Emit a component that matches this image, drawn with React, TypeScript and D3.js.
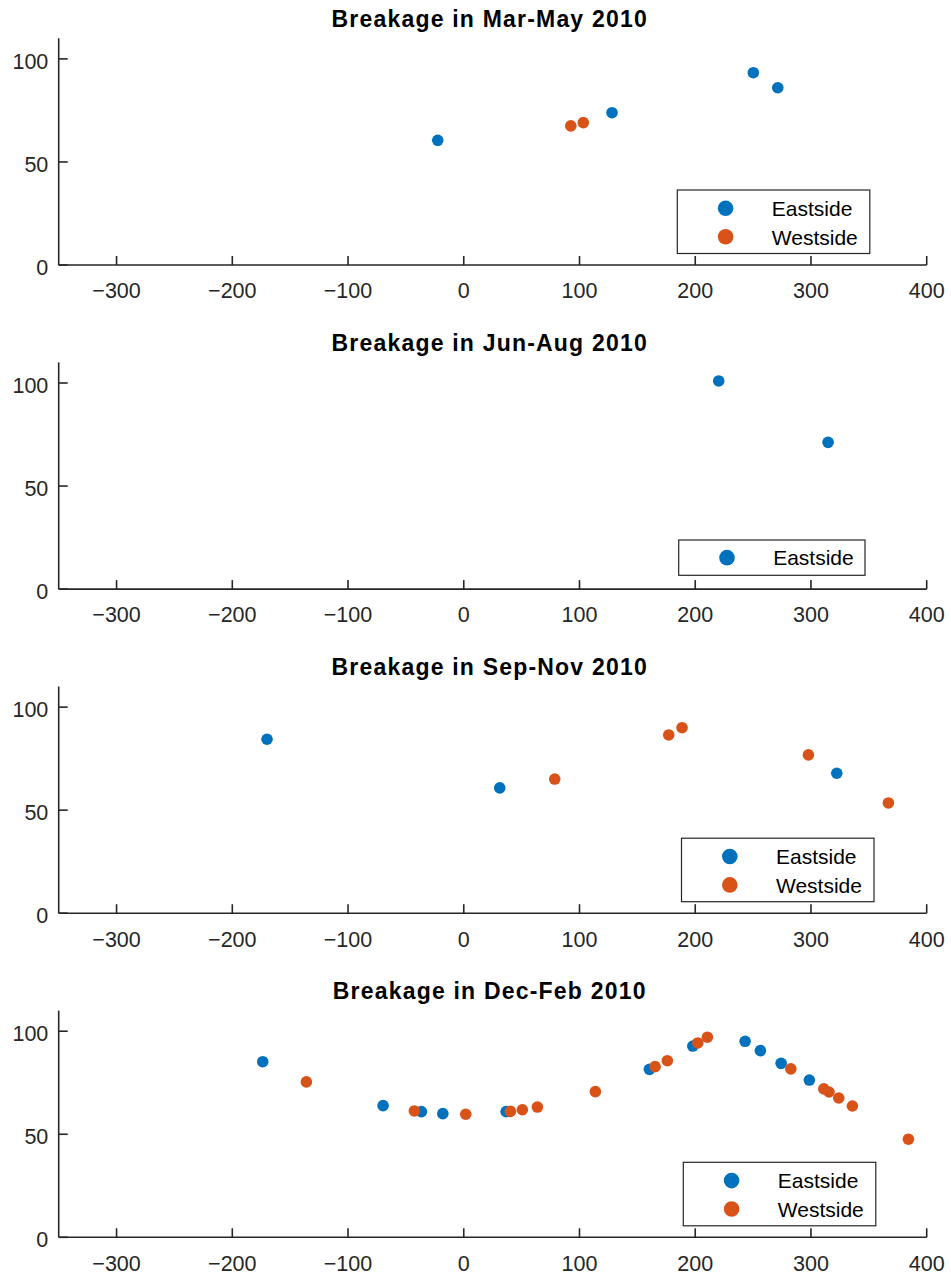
import React from "react";
import * as d3 from "d3";

// ---- Data ----
const panelTitles = [
  "Breakage in Mar-May 2010",
  "Breakage in Jun-Aug 2010",
  "Breakage in Sep-Nov 2010",
  "Breakage in Dec-Feb 2010",
];

const seriesNames = ["Eastside", "Westside"];

const marMayEastX = [-22.5, 128.1, 250.2, 271.3];
const marMayEastY = [60.5, 73.9, 93.3, 86.0];
const marMayWestX = [92.5, 103.3];
const marMayWestY = [67.5, 69.1];

const junAugEastX = [220.3, 314.8];
const junAugEastY = [101.0, 71.2];
const junAugWestX: number[] = [];
const junAugWestY: number[] = [];

const sepNovEastX = [-170.0, 31.1, 322.3];
const sepNovEastY = [84.4, 60.8, 67.9];
const sepNovWestX = [78.6, 177.1, 188.6, 297.8, 366.9];
const sepNovWestY = [65.1, 86.5, 90.0, 76.8, 53.5];

const decFebEastX = [-173.7, -69.7, -36.6, -18.1, 36.6, 160.4, 197.9, 243.1, 256.3, 274.2, 298.6];
const decFebEastY = [85.2, 63.9, 61.0, 60.0, 61.0, 81.5, 92.8, 95.1, 90.6, 84.4, 76.3];
const decFebWestX = [-136.0, -42.7, 1.7, 40.3, 50.6, 63.6, 113.7, 165.3, 175.9, 202.2, 210.5, 282.6, 311.1, 315.6, 324.0, 335.8, 384.2];
const decFebWestY = [75.4, 61.3, 59.7, 61.1, 61.9, 63.2, 70.7, 82.8, 85.7, 94.3, 97.1, 81.7, 72.0, 70.5, 67.6, 63.7, 47.6];

const xTicks = [-300, -200, -100, 0, 100, 200, 300, 400];
const yTicks = [0, 50, 100];
const xDomain: [number, number] = [-350, 400];
const yDomain: [number, number] = [0, 110];

// ---- Styles / layout ----
const W = 951;
const H = 1277;
const COLORS = ["#0072BD", "#D95319"];
const AXIS = "#262626";
const FONT = "'Liberation Sans', Arial, Helvetica, sans-serif";
const left = 58.7;
const right = 926.7;
const firstBottom = 265;
const panelStep = 324.1;
const plotH = 226.7;
const legendLefts = [677.3, 678.7, 681.5, 683.3];
const tickLen = 9;

function fmt(v: number) {
  return v < 0 ? "\u2212" + Math.abs(v) : String(v);
}

function Panel({ idx, ex, ey, wx, wy }: { idx: number; ex: number[]; ey: number[]; wx: number[]; wy: number[] }) {
  const bottom = firstBottom + idx * panelStep;
  const top = bottom - plotH;
  const x = d3.scaleLinear().domain(xDomain).range([left, right]);
  const y = d3.scaleLinear().domain(yDomain).range([bottom, top]);
  const series = [
    { name: seriesNames[0], xs: ex, ys: ey, color: COLORS[0] },
    { name: seriesNames[1], xs: wx, ys: wy, color: COLORS[1] },
  ].filter((s) => s.xs.length > 0);

  const legLeft = legendLefts[idx];
  const legW = series.length > 1 ? 192.5 : 186.3;
  const rowH = 28.4;
  const legH = series.length > 1 ? 63.5 : 35.3;
  const legBottom = bottom - (series.length > 1 ? 11.5 : 13.8);
  const legTop = legBottom - legH;

  return (
    <g>
      <text
        x={(left + right) / 2 - 3}
        y={top - 11.3}
        textAnchor="middle"
        fontFamily={FONT}
        fontWeight="bold"
        fontSize={23}
        letterSpacing={1.2}
        fill="#000"
      >
        {panelTitles[idx]}
      </text>
      {/* axes */}
      <line x1={left} x2={right} y1={bottom} y2={bottom} stroke={AXIS} strokeWidth={1.6} />
      <line x1={left} x2={left} y1={top} y2={bottom} stroke={AXIS} strokeWidth={1.6} />
      {xTicks.map((t) => (
        <g key={"x" + t}>
          <line x1={x(t)} x2={x(t)} y1={bottom} y2={bottom - tickLen} stroke={AXIS} strokeWidth={1.6} />
          <text x={x(t)} y={bottom + 33.3} textAnchor="middle" fontFamily={FONT} fontSize={21.5} fill={AXIS}>
            {fmt(t)}
          </text>
        </g>
      ))}
      {yTicks.map((t) => (
        <g key={"y" + t}>
          <line x1={left} x2={left + tickLen} y1={y(t)} y2={y(t)} stroke={AXIS} strokeWidth={1.6} />
          <text x={left - 10.4} y={y(t) + 9.6} textAnchor="end" fontFamily={FONT} fontSize={21.5} fill={AXIS}>
            {fmt(t)}
          </text>
        </g>
      ))}
      {/* points */}
      {series.map((s) =>
        s.xs.map((v, i) => <circle key={s.name + i} cx={x(v)} cy={y(s.ys[i])} r={5.8} fill={s.color} />)
      )}
      {/* legend */}
      <rect x={legLeft} y={legTop} width={legW} height={legH} fill="#fff" stroke={AXIS} strokeWidth={1.2} />
      {series.map((s, i) => {
        const cy = legTop + (series.length > 1 ? 18.3 : legH / 2) + i * rowH;
        return (
          <g key={"leg" + s.name}>
            <circle cx={legLeft + 48.3} cy={cy} r={7.8} fill={s.color} />
            <text x={legLeft + 94.5} y={cy + 7.8} fontFamily={FONT} fontSize={21} fill="#000">
              {s.name}
            </text>
          </g>
        );
      })}
    </g>
  );
}

export default function App() {
  const panels = [
    { ex: marMayEastX, ey: marMayEastY, wx: marMayWestX, wy: marMayWestY },
    { ex: junAugEastX, ey: junAugEastY, wx: junAugWestX, wy: junAugWestY },
    { ex: sepNovEastX, ey: sepNovEastY, wx: sepNovWestX, wy: sepNovWestY },
    { ex: decFebEastX, ey: decFebEastY, wx: decFebWestX, wy: decFebWestY },
  ];
  return (
    <svg
      width={W}
      height={H}
      viewBox={`0 0 ${W} ${H}`}
      style={{ position: "absolute", left: 0, top: 0, background: "#fff" }}
    >
      <rect x={0} y={0} width={W} height={H} fill="#fff" />
      {panels.map((p, i) => (
        <Panel key={i} idx={i} {...p} />
      ))}
    </svg>
  );
}
